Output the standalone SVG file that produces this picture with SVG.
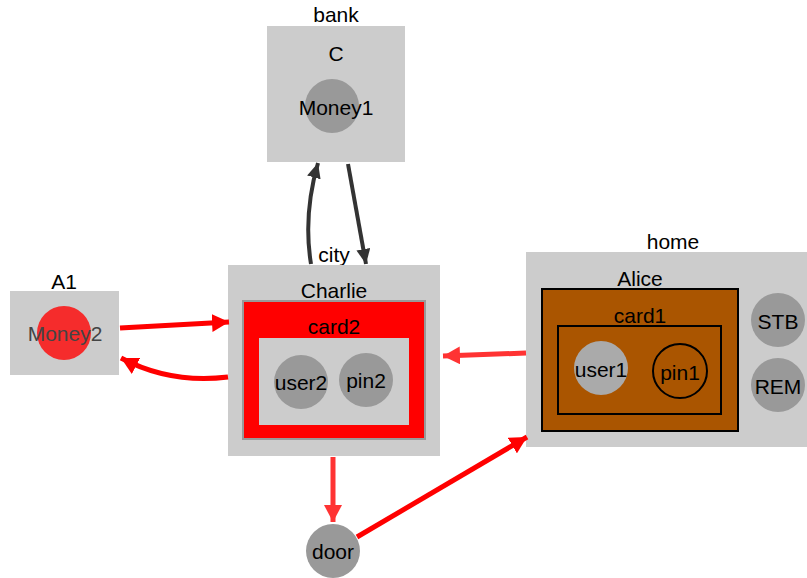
<svg xmlns="http://www.w3.org/2000/svg" width="807" height="578" viewBox="0 0 807 578">
  <style>
    text { font-family: "Liberation Sans", Arial, sans-serif; font-size: 21px; fill: #000; text-anchor: middle; dominant-baseline: central; }
    .box { fill: #cccccc; }
    .ball { fill: #999999; }
    .edge { fill: none; stroke-width: 5; }
    .red { stroke: #ff0000; }
    .pink { stroke: #ff3333; }
    .dark { stroke: #333333; stroke-width: 4; }
  </style>
  <defs>
    <marker id="ahRed" markerUnits="userSpaceOnUse" markerWidth="20" markerHeight="18" refX="17" refY="9" orient="auto">
      <path d="M0,0 L17,9 L0,18 Z" fill="#ff0000"/>
    </marker>
    <marker id="ahPink" markerUnits="userSpaceOnUse" markerWidth="20" markerHeight="18" refX="17" refY="9" orient="auto">
      <path d="M0,0 L17,9 L0,18 Z" fill="#ff3333"/>
    </marker>
    <marker id="ahDark" markerUnits="userSpaceOnUse" markerWidth="16" markerHeight="14" refX="15" refY="7" orient="auto">
      <path d="M0,0 L15,7 L0,14 Z" fill="#333333"/>
    </marker>
  </defs>

  <!-- bank -->
  <g id="bank">
    <text x="336" y="14">bank</text>
    <rect class="box" x="267" y="26" width="138" height="136"/>
    <text x="336" y="53">C</text>
    <circle class="ball" cx="332" cy="106" r="27"/>
    <text x="336" y="107">Money1</text>
  </g>

  <!-- A1 -->
  <g id="A1">
    <text x="64" y="281">A1</text>
    <rect class="box" x="10" y="291" width="109" height="84"/>
    <circle cx="64" cy="333" r="27" fill="#f52c2c"/>
    <text x="65" y="333" style="fill:#444">Money2</text>
  </g>

  <!-- city -->
  <g id="city">
    <text x="334" y="254">city</text>
    <rect class="box" x="228" y="265" width="212" height="191"/>
    <text x="334" y="290">Charlie</text>
    <rect x="243" y="301" width="182" height="138" fill="#ff0000" stroke="#999999" stroke-width="2"/>
    <text x="334" y="326">card2</text>
    <rect x="259" y="338" width="150" height="87" fill="#cccccc"/>
    <circle class="ball" cx="301" cy="382" r="27"/>
    <text x="301" y="382">user2</text>
    <circle class="ball" cx="366" cy="380" r="27"/>
    <text x="366" y="380">pin2</text>
  </g>

  <!-- home -->
  <g id="home">
    <text x="673" y="241">home</text>
    <rect class="box" x="526" y="252" width="281" height="195"/>
    <text x="640" y="278">Alice</text>
    <rect x="542" y="289" width="196" height="142" fill="#aa5500" stroke="#000" stroke-width="2"/>
    <text x="640" y="315">card1</text>
    <rect x="558" y="326" width="163" height="88" fill="none" stroke="#000" stroke-width="2"/>
    <circle cx="601" cy="368" r="27" fill="#aaaaaa"/>
    <text x="601" y="369">user1</text>
    <circle cx="680" cy="371" r="27" fill="none" stroke="#000" stroke-width="2"/>
    <text x="680" y="372">pin1</text>
    <circle class="ball" cx="778" cy="320" r="27"/>
    <text x="778" y="321">STB</text>
    <circle class="ball" cx="778" cy="385" r="27"/>
    <text x="778" y="386">REM</text>
  </g>

  <!-- door -->
  <g id="door">
    <circle class="ball" cx="333" cy="551" r="27"/>
    <text x="333" y="551">door</text>
  </g>

  <!-- connectors -->
  <g id="edges">
    <path class="edge dark" d="M311,264 Q303,215 318,163" marker-end="url(#ahDark)"/>
    <path class="edge dark" d="M348,164 L366,264" marker-end="url(#ahDark)"/>
    <path class="edge red" d="M120,328 L229,322" marker-end="url(#ahRed)"/>
    <path class="edge red" d="M228,377 Q170,384 121,358" marker-end="url(#ahRed)"/>
    <path class="edge pink" d="M526,353 L443,356" marker-end="url(#ahPink)"/>
    <path class="edge pink" d="M333,457 L333,522" marker-end="url(#ahPink)"/>
    <path class="edge red" d="M357,537 L527,437" marker-end="url(#ahRed)"/>
  </g>
</svg>
